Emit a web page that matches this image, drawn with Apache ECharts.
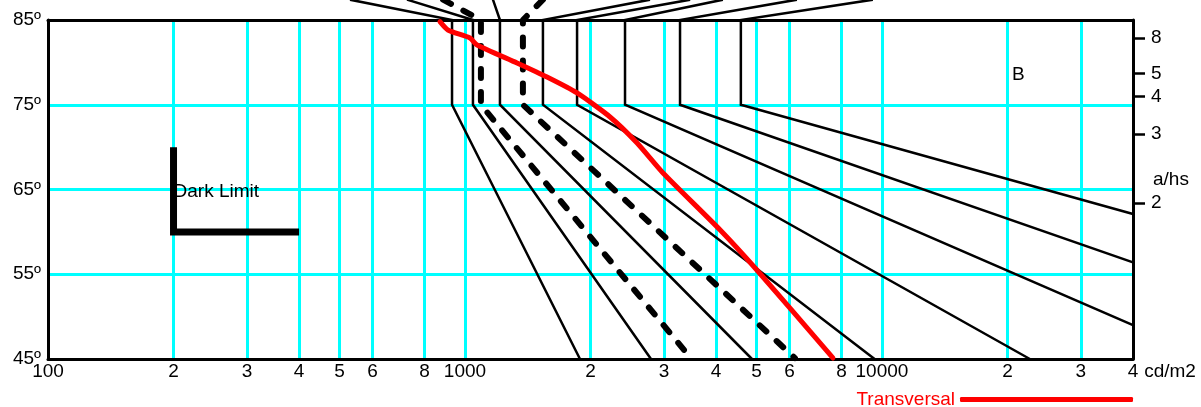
<!DOCTYPE html>
<html>
<head>
<meta charset="utf-8">
<script src="https://cdn.jsdelivr.net/npm/echarts@6/dist/echarts.min.js"></script>
<style>
  html, body { margin: 0; padding: 0; background: #fff; }
  #chart { width: 1201px; height: 407px; }
</style>
</head>
<body>
<div id="chart"></div>
<script>
// axis ticks
const xTicks = [100, 200, 300, 400, 500, 600, 800, 1000, 2000, 3000, 4000, 5000, 6000, 8000, 10000, 20000, 30000, 40000]
const xTickLabels = ['100', '2', '3', '4', '5', '6', '8', '1000', '2', '3', '4', '5', '6', '8', '10000', '2', '3', '4']
const angleTicks = [45, 55, 65, 75, 85]
const ahsTicks = [8, 5, 4, 3, 2]

// solid curves: [luminance, angle]
const curveA = [[530, 87.4], [931, 85], [931, 75], [1887, 45]]
const curveB = [[726, 87.4], [1045, 85], [1045, 75], [2793, 45]]
const curveD = [[1167, 87.4], [1213, 85], [1213, 75], [4878, 45]]
const curveF = [[2778, 87.4], [1538, 85], [1538, 75], [9600, 45]]
const curveG = [[3467, 87.4], [1857, 85], [1857, 75], [22630, 45]]
const curveH = [[4155, 87.4], [2420, 85], [2420, 75], [40000, 49.0]]
const curveI = [[6252, 87.4], [3279, 85], [3279, 75], [40000, 56.4]]
const curveJ = [[9510, 87.4], [4588, 85], [4588, 75], [40000, 62.1]]

// dashed curves
const curveC = [[886, 87.4], [1092, 85], [1092, 75], [3388, 45.8]]
const curveE = [[1538, 87.4], [1377, 85], [1377, 75], [6185, 45.1]]

// red transversal curve
const transversal = [
  [871, 84.8], [910, 83.82], [1028, 82.87], [1069, 82.05], [1333, 79.93],
  [1573, 78.27], [1857, 76.39], [2228, 73.56], [2587, 70.49], [2985, 66.95],
  [4093, 60.22], [5012, 55.5], [7626, 45.12]
]

// dark limit corner
const darkLimit = [[200, 70], [200, 60], [400, 60]]

// text notes
const notes = [
  { name: 'Dark Limit', value: [200, 64.7] },
  { name: 'B', value: [20500, 78.5] }
]

const FONT = 'Liberation Sans, Arial, sans-serif'
const chart = echarts.init(document.getElementById('chart'))

function blackLine(data) {
  return {
    type: 'line',
    data: data,
    symbol: 'none',
    clip: false,
    silent: true,
    lineStyle: { color: '#000', width: 2.5, join: 'miter' },
    z: 3
  }
}

function dashedLine(data) {
  return {
    type: 'line',
    data: data,
    symbol: 'none',
    clip: false,
    silent: true,
    lineStyle: { color: '#000', width: 6, type: [9, 14], cap: 'round', join: 'round' },
    z: 3
  }
}

const ahsAngles = ahsTicks.map(function (t) { return Math.atan(t) * 180 / Math.PI })

chart.setOption({
  animation: false,
  textStyle: { fontFamily: FONT },
  grid: {
    left: 48,
    right: 68,
    top: 20,
    bottom: 48,
    outerBoundsMode: 'none'
  },
  legend: {
    data: ['Transversal'],
    right: 63,
    top: 385,
    align: 'right',
    icon: 'roundRect',
    itemWidth: 173,
    itemHeight: 5,
    textStyle: { color: '#ff0000', fontSize: 19, fontFamily: FONT }
  },
  xAxis: [
    {
      type: 'log',
      logBase: 10,
      min: 100,
      max: 40000,
      name: 'cd/m2',
      nameLocation: 'end',
      nameGap: 10,
      nameTextStyle: { color: '#000', fontSize: 19, fontFamily: FONT, verticalAlign: 'top', padding: [3, 0, 0, 0] },
      axisLine: { show: true, lineStyle: { color: '#000', width: 3 } },
      axisTick: { show: false, customValues: xTicks },
      axisLabel: {
        customValues: xTicks,
        color: '#000',
        fontSize: 19,
        margin: 3,
        formatter: function (v) {
          const i = xTicks.findIndex(function (t) { return Math.abs(t - v) / t < 1e-6 })
          return i >= 0 ? xTickLabels[i] : ''
        }
      },
      splitLine: {
        show: true,
        showMinLine: false,
        showMaxLine: false,
        lineStyle: { color: '#00ffff', width: 3 }
      },
      minorTick: { show: false },
      minorSplitLine: { show: false }
    },
    {
      type: 'log',
      logBase: 10,
      min: 100,
      max: 40000,
      position: 'top',
      axisLine: { show: true, lineStyle: { color: '#000', width: 3 } },
      axisTick: { show: false },
      axisLabel: { show: false },
      splitLine: { show: false }
    }
  ],
  yAxis: [
    {
      type: 'value',
      min: 45,
      max: 85,
      interval: 10,
      axisLine: { show: true, lineStyle: { color: '#000', width: 3 } },
      axisTick: { show: false },
      axisLabel: {
        color: '#000',
        fontSize: 19,
        margin: 7,
        formatter: function (v) { return v + '\u00ba' }
      },
      splitLine: {
        show: true,
        showMinLine: false,
        showMaxLine: false,
        lineStyle: { color: '#00ffff', width: 3 }
      }
    },
    {
      type: 'value',
      min: 45,
      max: 85,
      position: 'right',
      name: 'a/hs',
      nameLocation: 'middle',
      nameRotate: 0,
      nameGap: 20,
      nameMoveOverlap: false,
      nameTextStyle: { color: '#000', fontSize: 19, fontFamily: FONT, verticalAlign: 'bottom', align: 'left' },
      axisLine: { show: true, lineStyle: { color: '#000', width: 3 } },
      axisTick: {
        show: true,
        customValues: ahsAngles,
        length: 12,
        lineStyle: { color: '#000', width: 2.5 }
      },
      axisLabel: {
        customValues: ahsAngles,
        color: '#000',
        fontSize: 19,
        margin: 18,
        formatter: function (v) { return String(Math.round(Math.tan(v * Math.PI / 180))) }
      },
      splitLine: { show: false }
    }
  ],
  series: [
    blackLine(curveA),
    blackLine(curveB),
    blackLine(curveD),
    blackLine(curveF),
    blackLine(curveG),
    blackLine(curveH),
    blackLine(curveI),
    blackLine(curveJ),
    dashedLine(curveC),
    dashedLine(curveE),
    {
      name: 'Transversal',
      type: 'line',
      data: transversal,
      symbol: 'none',
      smooth: 0.2,
      clip: false,
      color: '#ff0000',
      lineStyle: { color: '#ff0000', width: 5, cap: 'round' },
      z: 4
    },
    {
      type: 'line',
      data: darkLimit,
      symbol: 'none',
      clip: false,
      lineStyle: { color: '#000', width: 7, join: 'miter' },
      z: 4
    },
    {
      type: 'scatter',
      data: notes,
      symbolSize: 0,
      silent: true,
      label: {
        show: true,
        position: 'right',
        distance: 0,
        color: '#000',
        opacity: 1,
        textBorderWidth: 0,
        fontSize: 19,
        fontFamily: FONT,
        formatter: '{b}'
      },
      z: 5
    }
  ]
})
</script>
</body>
</html>
